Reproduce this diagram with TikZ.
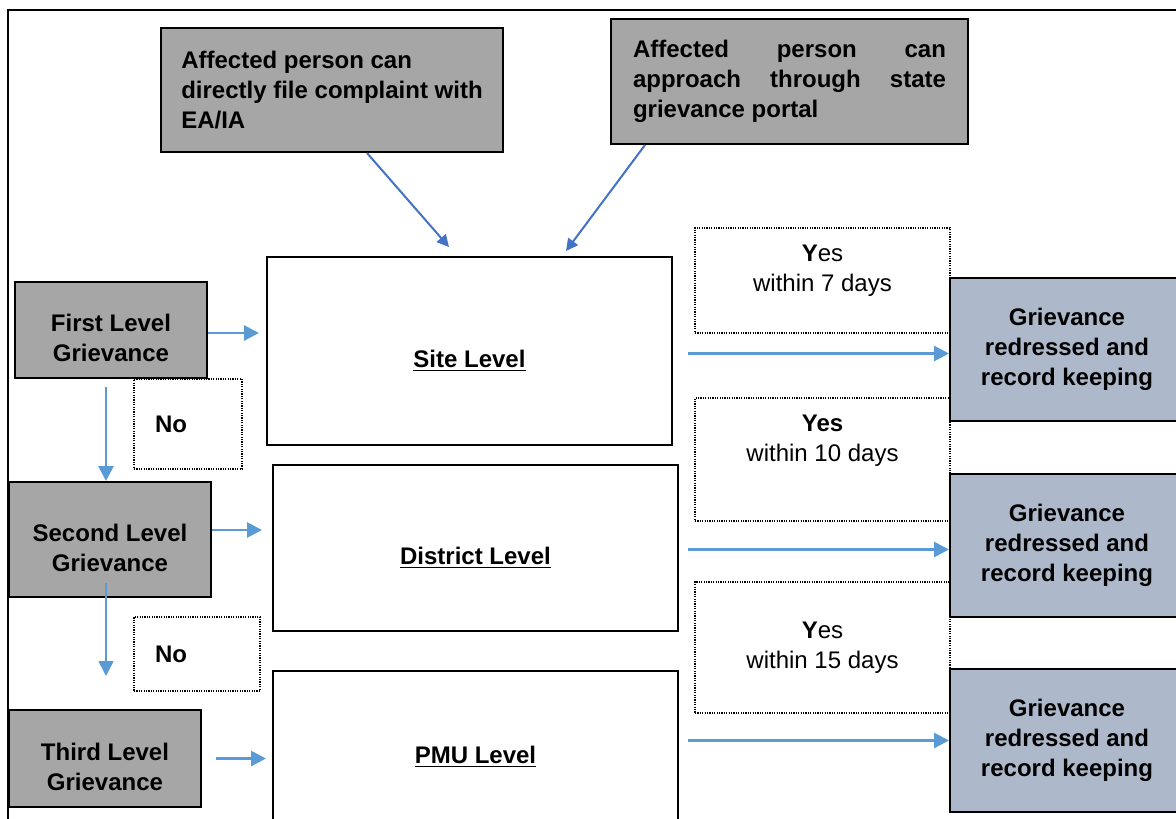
\documentclass[tikz,border=0pt]{standalone}
\usepackage{fontspec}
\setmainfont{Liberation Sans}
\usetikzlibrary{arrows.meta}
\definecolor{Shade}{HTML}{A6A6A6}
\definecolor{Slate}{HTML}{ADB9CA}
\definecolor{Sky}{HTML}{5B9BD5}
\definecolor{Royal}{HTML}{4472C4}
\tikzset{
  box/.style={rectangle,draw=black,line width=1pt,inner sep=0pt,align=center,
    font=\fontsize{12}{15}\selectfont\bfseries},
  note/.style={box,fill=Shade},
  grv/.style={note,text height=31.6pt,text depth=0pt},
  lvl/.style={box,fill=white,minimum width=202.5pt,text height=16.6pt,text depth=0pt},
  res/.style={box,fill=Slate,minimum width=117pt,minimum height=71.5pt},
  dotbox/.style={rectangle,draw=black,line width=.6pt,dash pattern=on .6pt off .6pt,
    inner sep=0pt,font=\fontsize{12}{15}\selectfont},
  yes/.style={dotbox,align=center,minimum width=127.5pt},
  nobox/.style={dotbox,font=\fontsize{12}{15}\selectfont\bfseries,align=left,inner xsep=10.5pt},
  flow/.style={-{Triangle[length=7.5pt,width=7.5pt]},draw=Sky,line width=1.4pt},
  feed/.style={-{Triangle[length=6pt,width=6pt]},draw=Royal,line width=1pt},
  frame/.style={draw=black,line width=1pt}
}
\begin{document}
\begin{tikzpicture}[x=.5pt,y=-.5pt]
  \useasboundingbox (0,0) rectangle (1176,818);
  \clip (0,0) rectangle (1176,818);
  \draw[frame] (8,840) -- (8,10) -- (1190,10);

  \node[note,minimum width=171pt,minimum height=62pt,align=left]
    (ea) at (332,90) {Affected person can\\directly file complaint with\\EA/IA};
  \node[note,minimum width=178.5pt,minimum height=62.5pt,text width=156.5pt,inner xsep=11pt,align=justify]
    (portal) at (789.5,81.5) {Affected person can\linebreak approach through state\linebreak grievance portal};

  \node[lvl,minimum height=94pt] (site) at (469.5,351) {\underline{Site Level}};
  \node[lvl,minimum height=83pt] (district) at (475.5,548) {\underline{District Level}};
  \node[lvl,minimum height=76pt] (pmu) at (475.5,747) {\underline{PMU Level}};

  \node[grv,minimum width=96pt,minimum height=48pt] (first) at (111,330) {First Level\\Grievance};
  \node[grv,minimum width=101pt,minimum height=57.5pt] (second) at (110,539.5) {Second Level\\Grievance};
  \node[grv,minimum width=96pt,minimum height=48.5pt] (third) at (105,758.5) {Third Level\\Grievance};

  \node[nobox,minimum width=54pt,minimum height=45pt,text width=33pt] (no1) at (188,424) {No};
  \node[nobox,minimum width=63pt,minimum height=37pt,text width=42pt] (no2) at (197,654) {No};

  \node[yes,minimum height=52.5pt,text height=10.6pt,text depth=0pt] (yes1) at (822.5,280.5)
    {\textbf{Y}es\\within 7 days};
  \node[yes,minimum height=61.5pt,text height=2.1pt,text depth=0pt] (yes2) at (822.5,459.5)
    {\textbf{Yes}\\within 10 days};
  \node[yes,minimum height=65.5pt] (yes3) at (822.5,647.5) {\textbf{Y}es\\within 15 days};

  \node[res] (res1) at (1067,349.5) {Grievance\\redressed and\\record keeping};
  \node[res] (res2) at (1067,545.5) {Grievance\\redressed and\\record keeping};
  \node[res] (res3) at (1067,740.5) {Grievance\\redressed and\\record keeping};

  \draw[feed] ([xshift=17.5pt]ea.south) -- ([xshift=-10.25pt,yshift=4.5pt]site.north);
  \draw[feed] ([xshift=-72.25pt]portal.south) -- ([xshift=48.25pt,yshift=2.5pt]site.north);

  \draw[flow,shorten >=3.5pt] ([yshift=-1.5pt]first.east) -- ([yshift=-1.5pt]first.east -| site.west);
  \draw[flow,shorten >=5pt] ([yshift=4.75pt]second.east) -- ([yshift=4.75pt]second.east -| district.west);
  \draw[flow,shorten <=7pt,shorten >=3pt] (third.east) -- (third.east -| pmu.west);
  \draw[flow,shorten <=4pt] ([xshift=-2.5pt]first.south) -- ([xshift=-2.5pt]first.south |- second.north);
  \draw[flow,line width=.8pt,shorten <=-7.5pt,shorten >=16.5pt]
    ([xshift=-2pt]second.south) -- ([xshift=-2pt]second.south |- third.north);

  \draw[flow,shorten <=7.5pt] ([yshift=-2pt]site.east |- res1.west) -- ([yshift=-2pt]res1.west);
  \draw[flow,shorten <=4.5pt] ([yshift=-2pt]district.east |- res2.west) -- ([yshift=-2pt]res2.west);
  \draw[flow,shorten <=4.5pt] (pmu.east |- res3.west) -- (res3.west);
\end{tikzpicture}
\end{document}
